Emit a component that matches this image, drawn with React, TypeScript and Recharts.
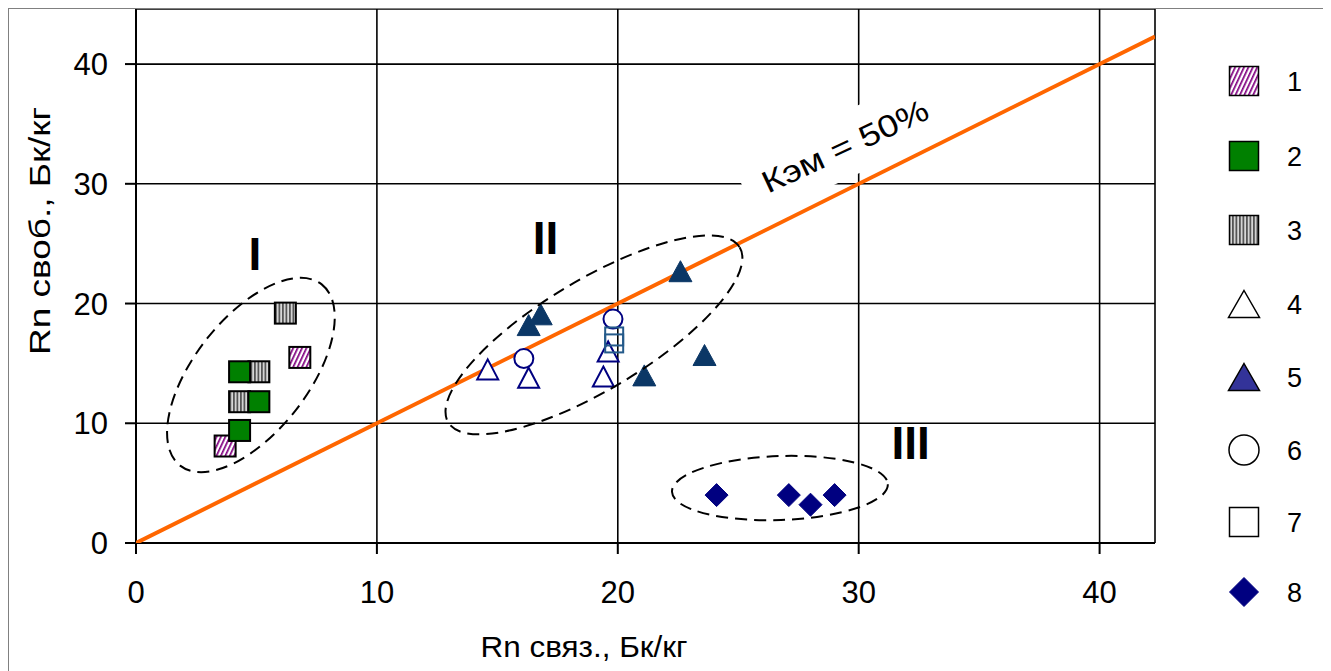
import React from 'react';
import { ScatterChart, Scatter, XAxis, YAxis, CartesianGrid, ReferenceDot } from 'recharts';

const FONT = '"Liberation Sans", Arial, sans-serif';

const xTicks = [0, 10, 20, 30, 40];
const yTicks = [0, 10, 20, 30, 40];
const xDomain = [0, 42.3];
const yDomain = [0, 44.6];

const kemLine = [{ x: 0, y: 0 }, { x: 42.3, y: 42.3 }];

const s1 = [{ x: 3.7, y: 8.1 }, { x: 6.8, y: 15.5 }];
const s2 = [{ x: 4.3, y: 14.3 }, { x: 5.1, y: 11.8 }, { x: 4.3, y: 9.4 }];
const s3 = [{ x: 6.2, y: 19.2 }, { x: 5.1, y: 14.3 }, { x: 4.3, y: 11.8 }];
const s4 = [{ x: 14.6, y: 14.5 }, { x: 16.3, y: 13.8 }, { x: 19.4, y: 13.9 }, { x: 19.6, y: 16.0 }];
const s5 = [{ x: 16.3, y: 18.2 }, { x: 16.8, y: 19.1 }, { x: 22.6, y: 22.7 }, { x: 21.1, y: 14.0 }, { x: 23.6, y: 15.7 }];
const s6 = [{ x: 16.1, y: 15.4 }, { x: 19.8, y: 18.7 }];
const s7 = [{ x: 19.85, y: 17.25 }, { x: 19.85, y: 16.67 }];
const s8 = [{ x: 24.1, y: 4.0 }, { x: 27.1, y: 4.0 }, { x: 28.0, y: 3.2 }, { x: 29.0, y: 4.0 }];

const legendLabels = ['1', '2', '3', '4', '5', '6', '7', '8'];
const legendRowsY = [72, 147, 221, 295, 368, 441, 513, 583];

const groupLabels = [
  { x: 4.94, y: 24.2, text: 'I' },
  { x: 17.0, y: 25.5, text: 'II' },
  { x: 32.16, y: 8.4, text: 'III' },
];
const groupEllipses = [
  { x: 4.77, y: 14.03, rx: 115, ry: 57, angle: -52 },
  { x: 19.01, y: 17.38, rx: 170, ry: 55, angle: -31 },
  { x: 26.73, y: 4.59, rx: 108, ry: 32, angle: -2 },
];
const kemLabel = { x: 29.43, y: 33.19, text: 'Кэм = 50%' };

const sq = (fill: string, stroke: string, size: number, sw: number) => (p: any) => (
  <rect x={p.cx - size / 2} y={p.cy - size / 2} width={size} height={size} fill={fill} stroke={stroke} strokeWidth={sw} />
);
const tri = (fill: string, stroke: string, w: number, h: number, sw: number) => (p: any) => (
  <polygon
    points={`${p.cx},${p.cy - h / 2} ${p.cx + w / 2},${p.cy + h / 2} ${p.cx - w / 2},${p.cy + h / 2}`}
    fill={fill}
    stroke={stroke}
    strokeWidth={sw}
    strokeLinejoin="miter"
  />
);
const circ = (fill: string, stroke: string, r: number, sw: number) => (p: any) => (
  <circle cx={p.cx} cy={p.cy} r={r} fill={fill} stroke={stroke} strokeWidth={sw} />
);
const diam = (fill: string, stroke: string, s: number, sw: number) => (p: any) => (
  <polygon
    points={`${p.cx},${p.cy - s / 2} ${p.cx + s / 2},${p.cy} ${p.cx},${p.cy + s / 2} ${p.cx - s / 2},${p.cy}`}
    fill={fill}
    stroke={stroke}
    strokeWidth={sw}
  />
);

const plotShapes = [
  sq('url(#hatch1)', '#000', 21, 2),
  sq('#008000', '#000', 21, 2),
  sq('url(#stripe3)', '#000', 21, 2),
  tri('#fff', '#000080', 21, 20, 2),
  tri('#0b3766', '#0b3766', 23, 21, 1),
  circ('#fff', '#000080', 9.5, 2),
  sq('none', '#245a8a', 18, 2),
  diam('#000080', '#000080', 23, 1),
];

const legendShapes = [
  sq('url(#hatch1)', '#000', 29, 1.5),
  sq('#008000', '#000', 29, 1.5),
  sq('url(#stripe3)', '#000', 29, 1.5),
  tri('#fff', '#000', 31, 27, 1.5),
  tri('#333399', '#000', 31, 27, 1.5),
  circ('#fff', '#000', 15, 1.5),
  sq('#fff', '#000', 29, 1.5),
  diam('#000080', '#000080', 29, 1),
];

export default function App() {
  return (
    <div
      style={{
        position: 'relative',
        width: 1316,
        height: 663,
        borderTop: '1px solid #808080',
        borderLeft: '1px solid #808080',
        borderRight: '1px solid #808080',
        boxSizing: 'border-box',
        background: '#fff',
      }}
    >
      <style>{'html,body{overflow:hidden}'}</style>
      <svg width={120} height={662} style={{ position: 'absolute', left: 1195, top: 0 }}>
        <defs>
          <pattern id="hatch1" patternUnits="userSpaceOnUse" width="4" height="4" patternTransform="rotate(25)">
            <rect width="4" height="4" fill="#fff" />
            <rect width="1.7" height="4" fill="#800080" />
          </pattern>
          <pattern id="stripe3" patternUnits="userSpaceOnUse" width="3.5" height="4">
            <rect width="3.5" height="4" fill="#d8d8d8" />
            <rect width="1.8" height="4" fill="#555" />
          </pattern>
        </defs>
        {legendLabels.map((lab, i) => (
          <g key={lab}>
            {legendShapes[i]({ cx: 40, cy: legendRowsY[i] })}
            <text x={83} y={legendRowsY[i]} dy="0.36em" fontFamily={FONT} fontSize={27} fill="#000">
              {lab}
            </text>
          </g>
        ))}
      </svg>
      <div style={{ position: 'absolute', left: 0, top: 0 }}>
        <ScatterChart width={1314} height={662} margin={{ top: 0, right: 168, bottom: 0, left: 0 }}>
          <CartesianGrid stroke="#000" strokeWidth={1.6} />
          <XAxis
            type="number"
            dataKey="x"
            domain={xDomain}
            allowDataOverflow
            ticks={xTicks}
            height={128}
            tickSize={11}
            tickMargin={27}
            axisLine={{ stroke: '#000', strokeWidth: 2 }}
            tickLine={{ stroke: '#000', strokeWidth: 2 }}
            tick={{ fontFamily: FONT, fontSize: 31, fill: '#000' }}
            label={{
              content: () => (
                <text x={575} y={648} textAnchor="middle" fontFamily={FONT} fontSize={29} fill="#000" textLength={207} lengthAdjust="spacingAndGlyphs">
                  Rn связ., Бк/кг
                </text>
              ),
            }}
          />
          <YAxis
            type="number"
            dataKey="y"
            domain={yDomain}
            allowDataOverflow
            ticks={yTicks}
            width={127}
            tickSize={11}
            tickMargin={17}
            axisLine={{ stroke: '#000', strokeWidth: 2 }}
            tickLine={{ stroke: '#000', strokeWidth: 2 }}
            tick={{ fontFamily: FONT, fontSize: 31, fill: '#000' }}
            label={{
              content: () => (
                <text x={41} y={222} transform="rotate(-90, 41, 222)" textAnchor="middle" fontFamily={FONT} fontSize={30} fill="#000" textLength={248} lengthAdjust="spacingAndGlyphs">
                  Rn своб., Бк/кг
                </text>
              ),
            }}
          />
          <Scatter data={kemLine} isAnimationActive={false} line={{ stroke: '#ff6600', strokeWidth: 4 }} shape={() => <g />} />
          <Scatter data={s1} isAnimationActive={false} shape={plotShapes[0]} />
          <Scatter data={s3} isAnimationActive={false} shape={plotShapes[2]} />
          <Scatter data={s2} isAnimationActive={false} shape={plotShapes[1]} />
          <Scatter data={s4} isAnimationActive={false} shape={plotShapes[3]} />
          <Scatter data={s5} isAnimationActive={false} shape={plotShapes[4]} />
          <Scatter data={s6} isAnimationActive={false} shape={plotShapes[5]} />
          <Scatter data={s7} isAnimationActive={false} shape={plotShapes[6]} />
          <Scatter data={s8} isAnimationActive={false} shape={plotShapes[7]} />
          {groupEllipses.map((e, i) => (
            <ReferenceDot
              key={'e' + i}
              x={e.x}
              y={e.y}
              shape={(p: any) => (
                <ellipse
                  cx={p.cx}
                  cy={p.cy}
                  rx={e.rx}
                  ry={e.ry}
                  transform={`rotate(${e.angle}, ${p.cx}, ${p.cy})`}
                  fill="none"
                  stroke="#000"
                  strokeWidth={2}
                  strokeDasharray="12 7"
                />
              )}
            />
          ))}
          {groupLabels.map((g, i) => (
            <ReferenceDot
              key={'g' + i}
              x={g.x}
              y={g.y}
              shape={(p: any) => (
                <text x={p.cx} y={p.cy} dy="0.36em" textAnchor="middle" fontFamily={FONT} fontSize={46} fontWeight="bold" fill="#000">
                  {g.text}
                </text>
              )}
            />
          ))}
          <ReferenceDot
            x={kemLabel.x}
            y={kemLabel.y}
            shape={(p: any) => (
              <g transform={`translate(${p.cx}, ${p.cy}) rotate(-25)`}>
                <rect x={-110} y={-31} width={220} height={62} fill="#fff" />
                <text x={0} y={0} dy="0.36em" textAnchor="middle" fontFamily={FONT} fontSize={31} fill="#000" textLength={180} lengthAdjust="spacingAndGlyphs">
                  {kemLabel.text}
                </text>
              </g>
            )}
          />
        </ScatterChart>
      </div>
    </div>
  );
}
